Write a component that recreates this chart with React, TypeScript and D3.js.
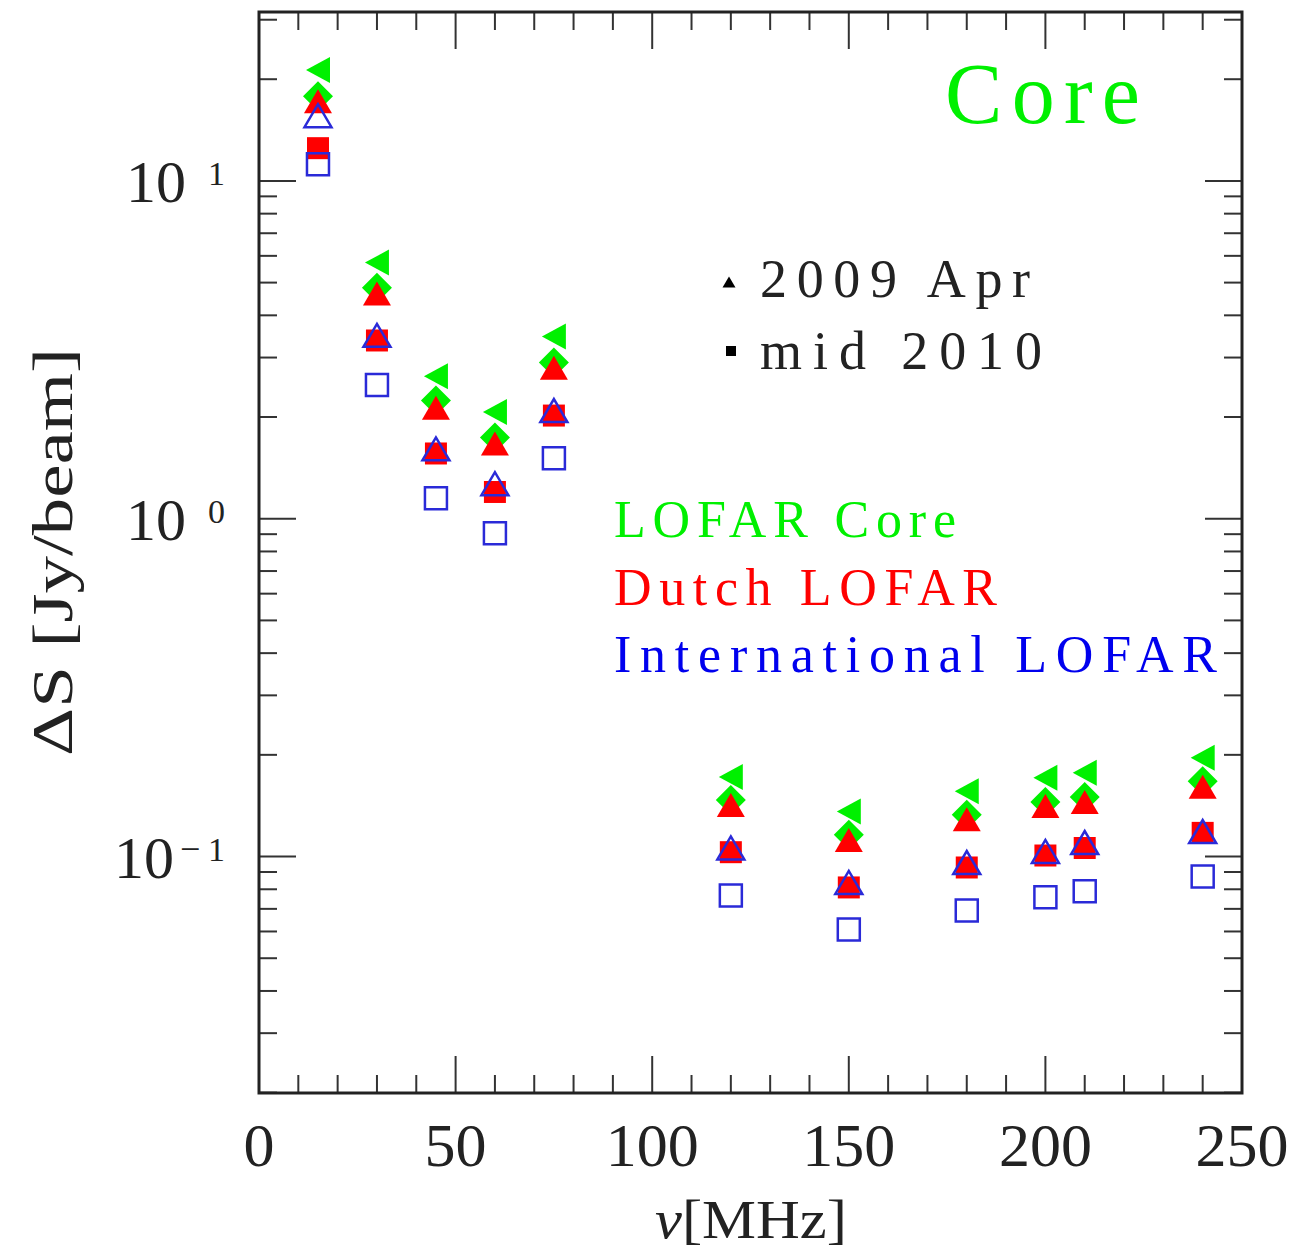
import React from "react";
import * as d3 from "d3";

// frequencies [MHz] and noise levels [Jy/beam]
const freq = [15, 30, 45, 60, 75, 120, 150, 180, 200, 210, 240];
const coreApr2009 = [21.3, 5.73, 2.64, 2.07, 3.46, 0.172, 0.136, 0.156, 0.171, 0.177, 0.196];
const coreMid2010 = [17.8, 4.83, 2.24, 1.74, 2.9, 0.147, 0.116, 0.133, 0.145, 0.15, 0.167];
const dutchApr2009 = [17.2, 4.64, 2.13, 1.67, 2.8, 0.142, 0.112, 0.129, 0.141, 0.145, 0.161];
const dutchMid2010 = [12.5, 3.37, 1.56, 1.2, 2.02, 0.103, 0.081, 0.0928, 0.1007, 0.106, 0.1175];
const intlApr2009 = [15.6, 3.49, 1.61, 1.27, 2.09, 0.106, 0.0838, 0.096, 0.1035, 0.11, 0.1186];
const intlMid2010 = [11.2, 2.49, 1.15, 0.906, 1.51, 0.0767, 0.0608, 0.0692, 0.0757, 0.0789, 0.0873];

const xTickLabels = [0, 50, 100, 150, 200, 250];
const yDecades = [1, 0, -1];
const seriesLabels = ["LOFAR Core", "Dutch LOFAR", "International LOFAR"];
const epochLabels = ["2009 Apr", "mid 2010"];

const W = 1295;
const H = 1250;
const m = { left: 259, right: 1242, top: 12, bottom: 1093 };

const GREEN = "#00f000";
const RED = "#ff0000";
const BLUE = "#0000ee";
const BLUE_MK = "#2a2ad8";

const x = d3.scaleLinear().domain([0, 250]).range([m.left, m.right]);
const y = d3.scaleLog().domain([Math.pow(10, -1.7), Math.pow(10, 1.5)]).range([m.bottom, m.top]);

// marker paths centred on their bounding box
const triUp = (cx: number, cy: number, w: number, h: number) =>
  `M${cx - w / 2},${cy + h / 2}L${cx + w / 2},${cy + h / 2}L${cx},${cy - h / 2}Z`;
const triLeft = (cx: number, cy: number, w: number, h: number) =>
  `M${cx + w / 2},${cy - h / 2}L${cx + w / 2},${cy + h / 2}L${cx - w / 2},${cy}Z`;
const diamond = (cx: number, cy: number, r: number) =>
  `M${cx},${cy - r}L${cx + r},${cy}L${cx},${cy + r}L${cx - r},${cy}Z`;
const square = (cx: number, cy: number, s: number) =>
  `M${cx - s / 2},${cy - s / 2}h${s}v${s}h${-s}Z`;

export default function App() {
  const yTicks = y.ticks();
  const xMinor = d3.range(0, 251, 10);
  const major = (v: number) => Math.abs(Math.log10(v) - Math.round(Math.log10(v))) < 1e-6;

  const serif = "'Liberation Serif', 'Times New Roman', serif";

  return (
    <svg width={W} height={H} style={{ position: "absolute", left: 0, top: 0, display: "block", background: "#fff" }}>
      {/* ticks */}
      <g stroke="#333" strokeWidth={2}>
        {xMinor.map((v) => {
          const len = v % 50 === 0 ? 37 : 18;
          return (
            <g key={"xt" + v}>
              <line x1={x(v)} x2={x(v)} y1={m.bottom} y2={m.bottom - len} />
              <line x1={x(v)} x2={x(v)} y1={m.top} y2={m.top + len} />
            </g>
          );
        })}
        {yTicks.map((v) => {
          const len = major(v) ? 37 : 18;
          return (
            <g key={"yt" + v}>
              <line x1={m.left} x2={m.left + len} y1={y(v)} y2={y(v)} />
              <line x1={m.right} x2={m.right - len} y1={y(v)} y2={y(v)} />
            </g>
          );
        })}
      </g>
      <rect x={m.left} y={m.top} width={m.right - m.left} height={m.bottom - m.top} fill="none" stroke="#222" strokeWidth={3} />

      {/* x tick labels */}
      {xTickLabels.map((v) => (
        <text key={"xl" + v} x={x(v)} y={1166} textAnchor="middle" fontFamily={serif} fontSize={62} fill="#222">
          {v}
        </text>
      ))}

      {/* y tick labels */}
      {yDecades.map((e) => {
        const yy = y(Math.pow(10, e));
        const neg = e < 0;
        return (
          <g key={"yl" + e} fontFamily={serif} fill="#222">
            <text x={neg ? 174 : 186} y={yy + 21} textAnchor="end" fontSize={60}>10</text>
            {neg && (
              <text x={180} y={yy + 4} fontSize={36}>−</text>
            )}
            <text x={208} y={yy + 4} fontSize={34}>{Math.abs(e)}</text>
          </g>
        );
      })}

      {/* axis titles */}
      <text x={655} y={1238} fontFamily={serif} fontSize={54} textLength={192} lengthAdjust="spacingAndGlyphs" fill="#222">
        <tspan fontStyle="italic">ν</tspan>[MHz]
      </text>
      <text
        transform="translate(72,552) rotate(-90)"
        textAnchor="middle"
        fontFamily={serif}
        fontSize={56}
        textLength={408}
        lengthAdjust="spacingAndGlyphs"
        fill="#222"
      >
        ΔS [Jy/beam]
      </text>

      {/* data: LOFAR Core */}
      {freq.map((f, i) => (
        <path key={"ca" + i} d={triLeft(x(f), y(coreApr2009[i]), 24, 26)} fill={GREEN} />
      ))}
      {freq.map((f, i) => (
        <path key={"cm" + i} d={diamond(x(f), y(coreMid2010[i]), 15)} fill={GREEN} />
      ))}
      {/* Dutch LOFAR */}
      {freq.map((f, i) => (
        <path key={"da" + i} d={triUp(x(f), y(dutchApr2009[i]), 28, 24)} fill={RED} />
      ))}
      {freq.map((f, i) => (
        <path key={"dm" + i} d={square(x(f), y(dutchMid2010[i]), 22)} fill={RED} />
      ))}
      {/* International LOFAR */}
      {freq.map((f, i) => (
        <path key={"ia" + i} d={triUp(x(f), y(intlApr2009[i]), 27, 23)} fill="none" stroke={BLUE_MK} strokeWidth={2.5} />
      ))}
      {freq.map((f, i) => (
        <path key={"im" + i} d={square(x(f), y(intlMid2010[i]), 22)} fill="none" stroke={BLUE_MK} strokeWidth={2.5} />
      ))}

      {/* title */}
      <text x={945} y={123} fontFamily={serif} fontSize={86} textLength={195} lengthAdjust="spacing" fill={GREEN}>
        Core
      </text>

      {/* epoch legend */}
      <path d={triUp(729, 282, 13, 11)} fill="#000" />
      <path d={square(731, 351, 10)} fill="#000" />
      <text x={760} y={297} fontFamily={serif} fontSize={54} textLength={270} lengthAdjust="spacing" fill="#222">
        {epochLabels[0]}
      </text>
      <text x={760} y={369} fontFamily={serif} fontSize={54} textLength={282} lengthAdjust="spacing" fill="#222">
        {epochLabels[1]}
      </text>

      {/* series legend */}
      <text x={614} y={537} fontFamily={serif} fontSize={52} textLength={342} lengthAdjust="spacing" fill={GREEN}>
        {seriesLabels[0]}
      </text>
      <text x={614} y={605} fontFamily={serif} fontSize={52} textLength={383} lengthAdjust="spacing" fill={RED}>
        {seriesLabels[1]}
      </text>
      <text x={614} y={672} fontFamily={serif} fontSize={52} textLength={603} lengthAdjust="spacing" fill={BLUE}>
        {seriesLabels[2]}
      </text>
    </svg>
  );
}
